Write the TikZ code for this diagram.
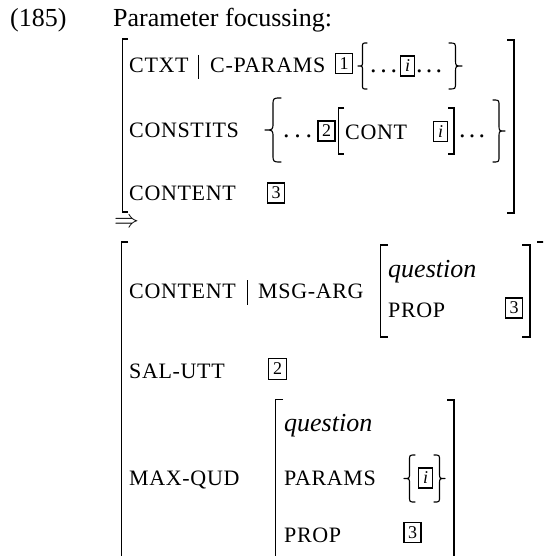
\documentclass[tikz,border=0pt]{standalone}
\usepackage{fontspec}
\setmainfont{Liberation Serif}
\newfontfamily\capsfont[LetterSpace=3]{Liberation Serif}

% curly braces drawn as paths: #1 left x, #2 right x, #3 top y, #4 bottom y
\newcommand\openbrace[4]{%
  \pgfmathsetmacro\bxm{(#1+#2)/2}\pgfmathsetmacro\bym{(#3+#4)/2}\pgfmathsetmacro\br{(#2-#1)/2}%
  \draw[brace] (#2,#3) .. controls (\bxm,#3) .. (\bxm,{#3+\br}) -- (\bxm,{\bym-\br})
    .. controls (\bxm,\bym) .. (#1,\bym) .. controls (\bxm,\bym) .. (\bxm,{\bym+\br})
    -- (\bxm,{#4-\br}) .. controls (\bxm,#4) .. (#2,#4);}
\newcommand\closebrace[4]{%
  \pgfmathsetmacro\bxm{(#1+#2)/2}\pgfmathsetmacro\bym{(#3+#4)/2}\pgfmathsetmacro\br{(#2-#1)/2}%
  \draw[brace] (#1,#3) .. controls (\bxm,#3) .. (\bxm,{#3+\br}) -- (\bxm,{\bym-\br})
    .. controls (\bxm,\bym) .. (#2,\bym) .. controls (\bxm,\bym) .. (\bxm,{\bym+\br})
    -- (\bxm,{#4-\br}) .. controls (\bxm,#4) .. (#1,#4);}

\tikzset{
  feat/.style={anchor=base west, inner sep=0pt, font=\capsfont\fontsize{22}{22}\selectfont},
  txt/.style={anchor=base west, inner sep=0pt, font=\fontsize{26}{26}\selectfont},
  itl/.style={anchor=base west, inner sep=0pt, font=\fontsize{26}{26}\selectfont\itshape},
  tag/.style={draw, line width=1.3pt, inner sep=0pt, minimum width=17pt, minimum height=20pt,
    font=\fontsize{18}{18}\selectfont},
  itag/.style={tag, minimum width=14pt, font=\fontsize{18}{18}\selectfont\itshape},
  dots/.style={anchor=base west, inner sep=0pt, font=\fontsize{26}{26}\selectfont},
  bigbar/.style={line width=1.6pt},
  smallbar/.style={line width=1.25pt},
  sep/.style={line width=1pt},
  brace/.style={line width=1.15pt, line cap=round, line join=round},
}

\begin{document}
\begin{tikzpicture}[x=1pt,y=-1pt]
\useasboundingbox (0,0) rectangle (543,556);
\clip (0,0) rectangle (543,556);

% heading
\node[txt] (num) at (10,27) {(185)};
\node[txt] (title) at (113,27) {Parameter focussing:};

% ---------------- first structure ----------------
\draw[bigbar] (128,39) -- (122.5,39) -- (122.5,212) -- (128,212);
\draw[bigbar] (507,40) -- (514,40) -- (514,213) -- (507,213);

% CTXT | C-PARAMS
\node[feat] (ctxt) at (129,73) {CTXT};
\draw[sep] (198,55) -- (198,79);
\node[feat] (cparams) at (210,73) {C-PARAMS};
\node[tag] (t1) at (344,63.5) {1};
\openbrace{358}{367}{43}{89}
\node[dots] (d1) at (370,73) {\makebox[27pt]{.\hfill.\hfill.}};
\node[itag] (ti1) at (407.5,66) {i};
\node[dots] (d2) at (416,73) {\makebox[26pt]{.\hfill.\hfill.}};
\closebrace{449}{462}{43}{89}

% CONSTITS
\node[feat] (constits) at (129,138) {CONSTITS};
\openbrace{265}{281}{98}{162}
\node[dots] (d3) at (283,138) {\makebox[29pt]{.\hfill.\hfill.}};
\node[tag] (t2) at (326.5,131) {2};
\draw[smallbar] (344,108) -- (338.5,108) -- (338.5,154) -- (344,154);
\node[feat] (cont) at (345,140) {CONT};
\node[itag] (ti2) at (440.5,131.5) {i};
\draw[smallbar] (448,108) -- (454,108) -- (454,154) -- (448,154);
\node[dots] (d4) at (459,138) {\makebox[26pt]{.\hfill.\hfill.}};
\closebrace{493}{505}{100}{162}

% CONTENT
\node[feat] (content1) at (129,200) {CONTENT};
\node[tag] (t3) at (276,193) {3};

% implication
\node[inner sep=0pt, font=\fontsize{23}{23}\selectfont] (impl) at (126.5,223) {$\Rightarrow$};

% ---------------- second structure ----------------
\draw[bigbar] (128,242) -- (121.5,242) -- (121.5,560);
\draw[bigbar] (537,242) -- (546,242) -- (546,560);

% CONTENT | MSG-ARG
\node[feat] (content2) at (129,298.5) {CONTENT};
\draw[sep] (247,280) -- (247,305);
\node[feat] (msgarg) at (258,298.5) {MSG-ARG};
\draw[smallbar] (388,245) -- (380.5,245) -- (380.5,337) -- (388,337);
\node[itl] (q1) at (388,277) {question};
\node[feat] (prop1) at (388,317) {PROP};
\node[tag] (t4) at (514,308) {3};
\draw[smallbar] (522,245) -- (530,245) -- (530,337) -- (522,337);

% SAL-UTT
\node[feat] (salutt) at (129,378) {SAL-UTT};
\node[tag, minimum width=18pt, minimum height=21pt] (t5) at (277.5,369) {2};

% MAX-QUD
\node[feat] (maxqud) at (129,485) {MAX-QUD};
\draw[smallbar] (283,399.5) -- (275.5,399.5) -- (275.5,560);
\draw[smallbar] (447,400) -- (454,400) -- (454,560);
\node[itl] (q2) at (284,431) {question};
\node[feat] (params) at (284,485) {PARAMS};
\openbrace{404}{415}{455}{502}
\node[itag] (ti3) at (425.5,478) {i};
\closebrace{434}{445}{455}{502}
\node[feat] (prop2) at (284,542) {PROP};
\node[tag] (t6) at (412.5,532.5) {3};
\end{tikzpicture}
\end{document}
